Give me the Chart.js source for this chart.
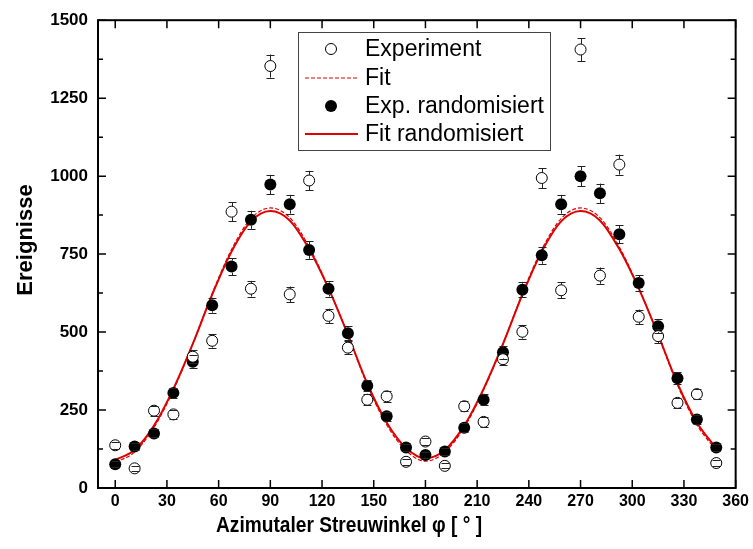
<!DOCTYPE html>
<html>
<head>
<meta charset="utf-8">
<title>Azimutaler Streuwinkel</title>
<script src="https://cdn.jsdelivr.net/npm/chart.js@4/dist/chart.umd.min.js"></script>
<style>
  html, body { margin: 0; padding: 0; background: #fff; }
  #wrap { width: 753px; height: 549px; }
</style>
</head>
<body>
<div id="wrap"><canvas id="myChart" width="753" height="549"></canvas></div>
<script>
'use strict';

// data
let phi = [0, 11.25, 22.5, 33.75, 45, 56.25, 67.5, 78.75, 90, 101.25, 112.5, 123.75, 135, 146.25, 157.5, 168.75,
           180, 191.25, 202.5, 213.75, 225, 236.25, 247.5, 258.75, 270, 281.25, 292.5, 303.75, 315, 326.25, 337.5, 348.75];

let experiment = [137, 63, 248, 236, 421, 472, 886, 639, 1353, 621, 986, 552, 450, 283, 294, 84,
                  149, 71, 262, 212, 413, 501, 994, 634, 1406, 681, 1037, 549, 487, 273, 301, 80];
let experimentErr = [12, 8, 16, 15, 21, 22, 30, 25, 37, 25, 31, 23, 21, 17, 17, 9,
                     12, 8, 16, 15, 20, 22, 32, 25, 37, 26, 32, 23, 22, 17, 17, 9];

let randomisiert = [76, 133, 175, 305, 405, 586, 710, 860, 973, 910, 763, 639, 496, 328, 230, 130,
                    106, 117, 193, 283, 435, 636, 746, 910, 1000, 945, 814, 657, 519, 352, 220, 130];
let randomisiertErr = [9, 12, 13, 17, 20, 24, 27, 29, 31, 30, 28, 25, 22, 18, 15, 11,
                       10, 11, 14, 17, 21, 25, 27, 30, 32, 31, 29, 26, 23, 19, 15, 11];

let fitExp = [82, 115, 194, 314, 462, 624, 765, 864, 898, 867, 773, 642, 490, 330, 203, 120,
              86, 115, 194, 314, 462, 624, 765, 864, 898, 867, 773, 642, 490, 330, 203, 120];
let fitRnd = [90, 122, 200, 318, 462, 620, 758, 855, 888, 858, 766, 640, 492, 335, 210, 128,
              95, 122, 200, 318, 462, 620, 758, 855, 888, 858, 766, 640, 492, 335, 210, 128];

let xTicks = [0, 30, 60, 90, 120, 150, 180, 210, 240, 270, 300, 330, 360];
let yTicks = [0, 250, 500, 750, 1000, 1250, 1500];
let yMinorTicks = [125, 375, 625, 875, 1125, 1375];

let legendNames = ['Experiment', 'Fit', 'Exp. randomisiert', 'Fit randomisiert'];

let xTitle = 'Azimutaler Streuwinkel \u03c6 [ \u00b0 ]';
let yTitle = 'Ereignisse';

let fontFamily = "'Liberation Sans', Arial, Helvetica, sans-serif";

function points(ys) {
    let out = [];
    for (let i = 0; i < phi.length; i++) {
        out.push({ x: phi[i], y: ys[i] });
    }
    return out;
}

// error bars, frame, ticks, titles, legend
let decorations = {
    id: 'decorations',
    afterDatasetsDraw(chart) {
        let ctx = chart.ctx;
        let xs = chart.scales.x;
        let ys = chart.scales.y;
        let sets = [[experiment, experimentErr, 5.5], [randomisiert, randomisiertErr, 6]];
        ctx.save();
        ctx.strokeStyle = '#222';
        ctx.lineWidth = 1;
        for (let s = 0; s < sets.length; s++) {
            let vals = sets[s][0], errs = sets[s][1], r = sets[s][2];
            for (let i = 0; i < phi.length; i++) {
                let px = Math.round(xs.getPixelForValue(phi[i])) + 0.5;
                let py = ys.getPixelForValue(vals[i]);
                let top = ys.getPixelForValue(vals[i] + errs[i]);
                let bot = ys.getPixelForValue(vals[i] - errs[i]);
                ctx.beginPath();
                if (py - top > r) {
                    ctx.moveTo(px, top); ctx.lineTo(px, py - r);
                    ctx.moveTo(px, py + r); ctx.lineTo(px, bot);
                }
                ctx.moveTo(px - 4, Math.round(top) + 0.5); ctx.lineTo(px + 4, Math.round(top) + 0.5);
                ctx.moveTo(px - 4, Math.round(bot) + 0.5); ctx.lineTo(px + 4, Math.round(bot) + 0.5);
                ctx.stroke();
            }
        }
        ctx.restore();
    },
    afterDraw(chart) {
        let ctx = chart.ctx;
        let a = chart.chartArea;
        let xs = chart.scales.x;
        let ys = chart.scales.y;
        ctx.save();

        // ticks pointing inward on all sides
        ctx.strokeStyle = '#000';
        ctx.lineWidth = 1.5;
        ctx.beginPath();
        xTicks.forEach(function (v) {
            let px = xs.getPixelForValue(v);
            ctx.moveTo(px, a.bottom); ctx.lineTo(px, a.bottom - 8);
            ctx.moveTo(px, a.top); ctx.lineTo(px, a.top + 8);
        });
        yTicks.forEach(function (v) {
            let py = ys.getPixelForValue(v);
            ctx.moveTo(a.left, py); ctx.lineTo(a.left + 8, py);
            ctx.moveTo(a.right, py); ctx.lineTo(a.right - 8, py);
        });
        yMinorTicks.forEach(function (v) {
            let py = ys.getPixelForValue(v);
            ctx.moveTo(a.left, py); ctx.lineTo(a.left + 5, py);
            ctx.moveTo(a.right, py); ctx.lineTo(a.right - 5, py);
        });
        ctx.stroke();

        ctx.lineWidth = 2;
        ctx.strokeRect(a.left, a.top, a.right - a.left, a.bottom - a.top);

        // axis titles
        ctx.fillStyle = '#000';
        ctx.font = 'bold 22px ' + fontFamily;
        ctx.textAlign = 'center';
        ctx.textBaseline = 'middle';
        ctx.fillText(xTitle, 349, 526, 266);
        ctx.translate(26, 240);
        ctx.rotate(-Math.PI / 2);
        ctx.fillText(yTitle, 0, 0);
        ctx.setTransform(1, 0, 0, 1, 0, 0);

        // legend
        let lx = 298, ly = 32, lw = 252, lh = 118;
        ctx.fillStyle = '#fff';
        ctx.fillRect(lx, ly, lw, lh);
        ctx.strokeStyle = '#444';
        ctx.lineWidth = 1;
        ctx.strokeRect(lx + 0.5, ly + 0.5, lw, lh);
        let rows = [49, 78, 106, 134];
        // open circle
        ctx.beginPath();
        ctx.arc(331, rows[0], 5.5, 0, Math.PI * 2);
        ctx.strokeStyle = '#000';
        ctx.stroke();
        // dashed line
        ctx.beginPath();
        ctx.setLineDash([4, 2]);
        ctx.strokeStyle = '#e00000';
        ctx.lineWidth = 1.2;
        ctx.moveTo(305, rows[1]); ctx.lineTo(358, rows[1]);
        ctx.stroke();
        ctx.setLineDash([]);
        // filled circle
        ctx.beginPath();
        ctx.arc(331, rows[2], 6, 0, Math.PI * 2);
        ctx.fillStyle = '#000';
        ctx.fill();
        // solid line
        ctx.beginPath();
        ctx.strokeStyle = '#e00000';
        ctx.lineWidth = 2;
        ctx.moveTo(305, rows[3]); ctx.lineTo(358, rows[3]);
        ctx.stroke();

        ctx.fillStyle = '#000';
        ctx.font = '23px ' + fontFamily;
        ctx.textAlign = 'left';
        ctx.textBaseline = 'middle';
        for (let i = 0; i < legendNames.length; i++) {
            ctx.fillText(legendNames[i], 365, rows[i] + 1);
        }
        ctx.restore();
    }
};

let ctx = document.getElementById('myChart').getContext('2d');
let myChart = new Chart(ctx, {
    type: 'scatter',
    data: {
        datasets: [{
            label: legendNames[0],
            data: points(experiment),
            showLine: false,
            pointRadius: 5.5,
            pointBackgroundColor: '#fff',
            pointBorderColor: '#000',
            pointBorderWidth: 1,
            order: 1
        }, {
            label: legendNames[1],
            data: points(fitExp),
            showLine: true,
            pointRadius: 0,
            borderColor: '#e00000',
            borderWidth: 1.2,
            borderDash: [4, 2],
            cubicInterpolationMode: 'monotone',
            order: 4
        }, {
            label: legendNames[2],
            data: points(randomisiert),
            showLine: false,
            pointRadius: 6,
            pointBackgroundColor: '#000',
            pointBorderColor: '#000',
            pointBorderWidth: 0,
            order: 2
        }, {
            label: legendNames[3],
            data: points(fitRnd),
            showLine: true,
            pointRadius: 0,
            borderColor: '#e00000',
            borderWidth: 2,
            cubicInterpolationMode: 'monotone',
            order: 3
        }]
    },
    options: {
        responsive: false,
        animation: false,
        events: [],
        layout: { padding: { left: 0, right: 17, top: 17, bottom: 0 } },
        plugins: {
            legend: { display: false },
            tooltip: { enabled: false }
        },
        scales: {
            x: {
                type: 'linear',
                min: -10,
                max: 360,
                afterBuildTicks: function (scale) {
                    scale.ticks = xTicks.map(function (v) { return { value: v }; });
                },
                afterFit: function (scale) { scale.height = 61; },
                grid: { display: false, drawTicks: false },
                border: { display: false },
                ticks: {
                    padding: 4,
                    color: '#000',
                    callback: function (v) { return String(v); },
                    font: { family: fontFamily, size: 16, weight: 'bold' }
                }
            },
            y: {
                min: 0,
                max: 1500,
                afterBuildTicks: function (scale) {
                    scale.ticks = yTicks.map(function (v) { return { value: v }; });
                },
                afterFit: function (scale) { scale.width = 98; },
                grid: { display: false, drawTicks: false },
                border: { display: false },
                ticks: {
                    padding: 10,
                    color: '#000',
                    callback: function (v) { return String(v); },
                    font: { family: fontFamily, size: 17, weight: 'bold' }
                }
            }
        }
    },
    plugins: [decorations]
});
</script>
</body>
</html>
